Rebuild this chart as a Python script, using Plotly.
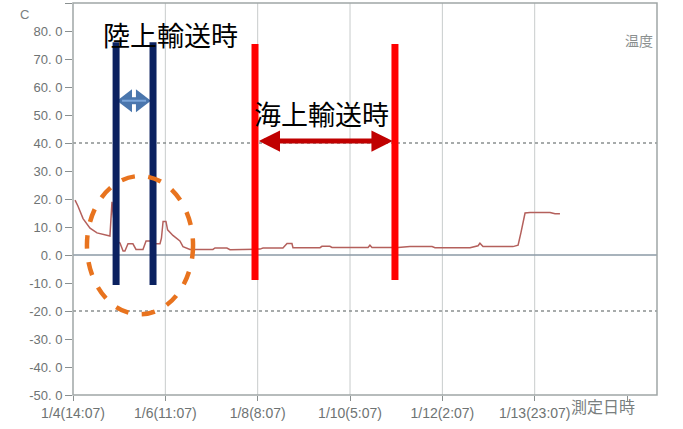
import plotly.graph_objects as go

# ---- data (hours since 1/4 14:07, temperature in C) ----
hours = [1.0, 2.4, 4.9, 8.3, 11.7, 18.0, 19.0, 21.0, 22.9, 24.4, 25.3, 26.8, 29.2, 30.7, 34.1,
         35.6, 37.5, 40.4, 42.4, 43.1, 43.9, 45.3, 46.1, 48.7, 52.1, 53.6, 57.0, 68.2, 69.2,
         75.0, 76.5, 91.1, 92.6, 102.3, 104.3, 106.7, 107.2, 120.4, 121.3, 125.2, 126.2,
         143.8, 144.7, 145.7, 158.4, 164.2, 175.0, 176.4, 193.5, 194.9, 197.4, 198.3, 199.8,
         214.4, 216.9, 218.3, 219.3, 220.3, 222.7, 232.5, 234.9, 237.3]
temps = [19.6, 17.5, 13.0, 9.6, 7.9, 6.8, 19.0, 5.0, 4.3, 1.4, 1.4, 4.0, 4.0, 2.0, 2.0,
         5.0, 5.0, 4.0, 4.0, 6.0, 12.0, 12.0, 9.0, 7.0, 5.0, 3.0, 2.0, 2.0, 2.5,
         2.5, 1.9, 2.1, 2.5, 2.5, 4.1, 4.1, 2.6, 2.6, 3.1, 3.1, 2.7,
         2.7, 3.5, 2.7, 2.7, 3.0, 3.0, 2.6, 2.6, 2.9, 3.3, 4.2, 3.0,
         3.0, 3.5, 8.0, 12.0, 15.0, 15.2, 15.2, 14.7, 14.7]

x_tickvals = [0, 45, 90, 135, 180, 225, 270]
x_ticktext = ["1/4(14:07)", "1/6(11:07)", "1/8(8:07)", "1/10(5:07)", "1/12(2:07)", "1/13(23:07)", ""]
y_tickvals = [-50, -40, -30, -20, -10, 0, 10, 20, 30, 40, 50, 60, 70, 80, 90]
y_ticktext = ["-50. 0", "-40. 0", "-30. 0", "-20. 0", "-10. 0", "0. 0", "10. 0", "20. 0",
              "30. 0", "40. 0", "50. 0", "60. 0", "70. 0", "80. 0", "90. 0"]
dotted_levels = [40, -20]

# annotation positions (data coords)
land_bars = [21.0, 39.0]
land_bar_span = [-10.7, 76.0]
sea_bars = [88.7, 156.9]
sea_bar_span = [-8.9, 75.4]
land_arrow_heads = [26.3, 33.1]
land_arrow_inner = [23.9, 35.6]
land_arrow_y = 55.1
sea_arrow = [89.8, 155.8, 40.7]
ellipse = [6.8, 58.5, -21.2, 28.2]
land_label = ["陸上輸送時", 47.3, 78.6]
sea_label = ["海上輸送時", 121.3, 50.4]

fig = go.Figure()
fig.add_trace(go.Scatter(x=hours, y=temps, mode="lines",
                         line=dict(color="#b4605c", width=1.5), hoverinfo="skip"))
# land-transport double arrow (block style)
fig.add_trace(go.Scatter(x=land_arrow_heads, y=[land_arrow_y] * 2, mode="lines+markers",
                         line=dict(color="#4a76ad", width=7),
                         marker=dict(symbol=["triangle-left", "triangle-right"], size=20,
                                     color="#4a76ad", line=dict(width=0)),
                         hoverinfo="skip"))
fig.add_trace(go.Scatter(x=land_arrow_inner, y=[land_arrow_y] * 2, mode="lines",
                         line=dict(color="#7ba6da", width=2), hoverinfo="skip"))

shapes = []
for tv in x_tickvals[1:-1]:
    shapes.append(dict(type="line", xref="x", yref="paper", x0=tv, x1=tv, y0=0, y1=1,
                       line=dict(color="#c8cccc", width=1), layer="below"))
for lv in dotted_levels:
    shapes.append(dict(type="line", xref="paper", yref="y", x0=0, x1=1, y0=lv, y1=lv,
                       line=dict(color="#8a9090", width=1.5, dash="dot"), layer="below"))
shapes.append(dict(type="line", xref="paper", yref="y", x0=0, x1=1, y0=0, y1=0,
                   line=dict(color="#8b9aa6", width=1.5), layer="below"))
shapes.append(dict(type="rect", xref="paper", yref="paper", x0=0, x1=1, y0=0, y1=1,
                   line=dict(color="#a0a6a6", width=1.5), layer="below"))
for bx in land_bars:
    shapes.append(dict(type="line", x0=bx, x1=bx, y0=land_bar_span[0], y1=land_bar_span[1],
                       line=dict(color="#0b2160", width=7)))
for bx in sea_bars:
    shapes.append(dict(type="line", x0=bx, x1=bx, y0=sea_bar_span[0], y1=sea_bar_span[1],
                       line=dict(color="#ff0000", width=7)))
shapes.append(dict(type="circle", x0=ellipse[0], x1=ellipse[1], y0=ellipse[2], y1=ellipse[3],
                   line=dict(color="#e8731e", width=4.5, dash="dash")))

annotations = [
    dict(x=sea_arrow[1], y=sea_arrow[2], ax=sea_arrow[0], ay=sea_arrow[2], axref="x", ayref="y",
         xref="x", yref="y", text="", showarrow=True, arrowhead=2, startarrowhead=2,
         arrowside="end+start", arrowsize=0.85, startarrowsize=0.85, arrowwidth=5, arrowcolor="#c00000"),
    dict(x=land_label[1], y=land_label[2], text=land_label[0], showarrow=False,
         font=dict(family="Noto Sans CJK JP", size=27, color="#000000")),
    dict(x=sea_label[1], y=sea_label[2], text=sea_label[0], showarrow=False,
         font=dict(family="Noto Sans CJK JP", size=27, color="#000000")),
    dict(x=0.997, y=0.936, xref="paper", yref="paper", text="温度", showarrow=False,
         xanchor="right", font=dict(family="Noto Sans CJK JP", size=14, color="#8a8f8f")),
    dict(x=0.966, y=-0.064, xref="paper", yref="paper", text="測定日時", showarrow=False,
         font=dict(family="Noto Sans CJK JP", size=16, color="#7a7f7f")),
    dict(x=-0.094, y=0.995, xref="paper", yref="paper", text="C", showarrow=False,
         font=dict(family="Liberation Sans, sans-serif", size=13, color="#7a7f7f")),
]

fig.update_layout(
    width=683, height=429,
    margin=dict(l=73, r=26, t=3, b=34),
    paper_bgcolor="#ffffff", plot_bgcolor="#ffffff",
    showlegend=False,
    shapes=shapes, annotations=annotations,
    xaxis=dict(range=[0, 284.6], tickvals=x_tickvals, ticktext=x_ticktext, showgrid=False,
               zeroline=False, ticks="outside", ticklen=5, tickcolor="#8a9090",
               showline=False, automargin=False,
               tickfont=dict(family="Liberation Sans, sans-serif", size=14, color="#6e7373")),
    yaxis=dict(range=[-50, 90], tickvals=y_tickvals, ticktext=y_ticktext, showgrid=False,
               zeroline=False, ticks="outside", ticklen=7, tickcolor="#8a9090",
               showline=False, automargin=False,
               tickfont=dict(family="Liberation Sans, sans-serif", size=13, color="#6e7373")),
)

fig.write_html("out.html", config={"displayModeBar": False},
               post_script="document.body.style.margin='0';")
